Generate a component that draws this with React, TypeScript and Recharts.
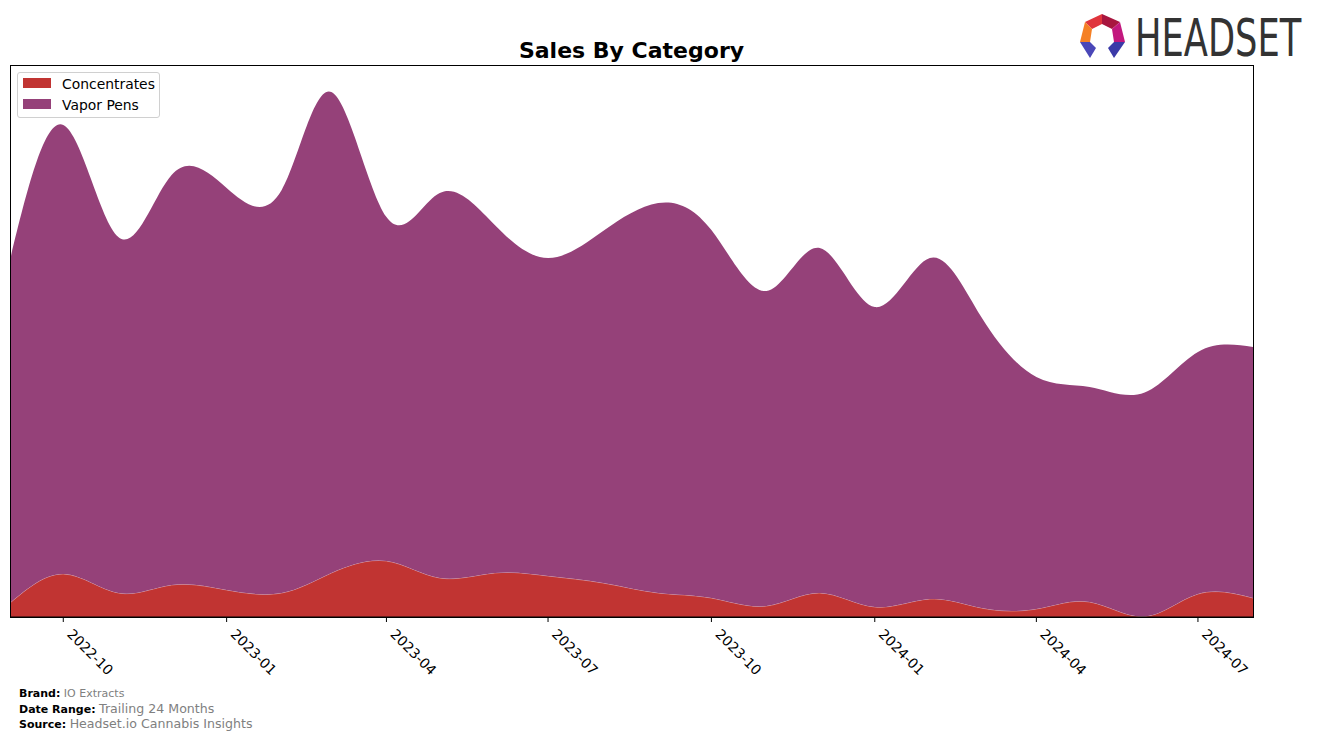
import React from "react";
import { AreaChart, Area, XAxis, YAxis } from "recharts";

const months = [
  "2022-09", "2022-10", "2022-11", "2022-12", "2023-01", "2023-02", "2023-03", "2023-04",
  "2023-05", "2023-06", "2023-07", "2023-08", "2023-09", "2023-10", "2023-11", "2023-12",
  "2024-01", "2024-02", "2024-03", "2024-04", "2024-05", "2024-06", "2024-07", "2024-08",
];
const concentrates = [14, 43, 24, 32, 27, 24, 44, 56, 39, 44, 41, 34, 24, 19, 11, 24, 10, 18, 9, 8, 15, 0.5, 23, 19];
const vaporPens = [343, 449, 356, 410, 402, 403, 481, 344, 385, 348, 318, 352, 390, 368, 315, 345, 300, 341, 291, 232, 215, 224, 242, 251];
const tickLabels = ["2022-10", "2023-01", "2023-04", "2023-07", "2023-10", "2024-01", "2024-04", "2024-07"];

const toTs = (m: string) => Date.UTC(+m.slice(0, 4), +m.slice(5, 7) - 1, 1);
const data = months.map((m, i) => ({ t: toTs(m), Concentrates: concentrates[i], "Vapor Pens": vaporPens[i] }));

const FONT = "'DejaVu Sans', sans-serif";
const RED = "#c13432";
const PURPLE = "#954179";

const Tick = (props: any) => {
  const { x, payload } = props;
  const d = new Date(payload.value);
  const label = `${d.getUTCFullYear()}-${String(d.getUTCMonth() + 1).padStart(2, "0")}`;
  return (
    <g transform={`translate(${x + 3},635)`}>
      <text transform="rotate(45)" textAnchor="start" fontSize={13.9} fontFamily={FONT} fill="#000">
        {label}
      </text>
    </g>
  );
};

export default function App() {
  return (
    <div style={{ position: "absolute", left: 0, top: 0, width: 1317, height: 740, background: "#fff", fontFamily: FONT }}>
      <AreaChart width={1317} height={740} data={data} margin={{ top: 66, right: 64, bottom: 63, left: 10 }}>
        <XAxis
          dataKey="t"
          type="number"
          domain={["dataMin", "dataMax"]}
          ticks={tickLabels.map(toTs)}
          tick={<Tick />}
          height={60}
          tickSize={5}
          axisLine={{ stroke: "#000" }}
          tickLine={{ stroke: "#000" }}
          interval={0}
        />
        <YAxis hide domain={[0, 551]} />
        <Area
          type="natural"
          dataKey="Concentrates"
          stackId="1"
          fill={RED}
          fillOpacity={1}
          stroke="rgba(255,255,255,0.35)"
          strokeWidth={1}
          isAnimationActive={false}
        />
        <Area
          type="natural"
          dataKey="Vapor Pens"
          stackId="1"
          fill={PURPLE}
          fillOpacity={1}
          stroke="none"
          isAnimationActive={false}
        />
      </AreaChart>
      <svg width={1317} height={740} style={{ position: "absolute", left: 0, top: 0, pointerEvents: "none" }}>
        <rect x={10.5} y={65.5} width={1243} height={552} fill="none" stroke="#000" strokeWidth={1} />
        <text x={631.5} y={58} textAnchor="middle" fontSize={22} fontWeight="bold" fontFamily={FONT} fill="#000">
          Sales By Category
        </text>
        {/* logo */}
        <polygon points="1085,22 1102,14 1102,24 1092,29" fill="#e0353c" />
        <polygon points="1102,14 1120,22 1112,29 1102,24" fill="#a8163f" />
        <polygon points="1085,22 1092,29 1090,42 1080,42" fill="#f58025" />
        <polygon points="1120,22 1125,42 1114,42 1112,29" fill="#c2187e" />
        <polygon points="1080,42 1090,42 1096,48 1090,58" fill="#4a47b8" />
        <polygon points="1114,42 1125,42 1114,58 1108,48" fill="#3b3aa8" />
        <text transform="translate(1135,56) scale(0.98,1.3)" fontSize={40} fontFamily="'DejaVu Sans Condensed', 'DejaVu Sans', sans-serif" fill="#333">
          HEADSET
        </text>
      </svg>
      <div style={{ position: "absolute", left: 17, top: 72, width: 141, height: 44, border: "1px solid #d0d0d0", borderRadius: 3, background: "rgba(255,255,255,0.8)" }}>
        <div style={{ position: "absolute", left: 5, top: 5, width: 28, height: 10, background: RED }} />
        <div style={{ position: "absolute", left: 44, top: 3, fontSize: 13.9, lineHeight: "16px", color: "#000", whiteSpace: "nowrap" }}>Concentrates</div>
        <div style={{ position: "absolute", left: 5, top: 26, width: 28, height: 10, background: PURPLE }} />
        <div style={{ position: "absolute", left: 44, top: 24, fontSize: 13.9, lineHeight: "16px", color: "#000", whiteSpace: "nowrap" }}>Vapor Pens</div>
      </div>
      <div style={{ position: "absolute", left: 19, top: 687, fontSize: 11, lineHeight: "14px", whiteSpace: "nowrap" }}>
        <b style={{ color: "#000" }}>Brand:</b> <span style={{ color: "#808080" }}>IO Extracts</span>
      </div>
      <div style={{ position: "absolute", left: 19, top: 701, fontSize: 11, lineHeight: "15px", whiteSpace: "nowrap" }}>
        <b style={{ color: "#000" }}>Date Range:</b> <span style={{ color: "#808080", fontSize: 12.6 }}>Trailing 24 Months</span>
      </div>
      <div style={{ position: "absolute", left: 19, top: 716, fontSize: 11, lineHeight: "15px", whiteSpace: "nowrap" }}>
        <b style={{ color: "#000" }}>Source:</b> <span style={{ color: "#808080", fontSize: 12.6 }}>Headset.io Cannabis Insights</span>
      </div>
    </div>
  );
}
